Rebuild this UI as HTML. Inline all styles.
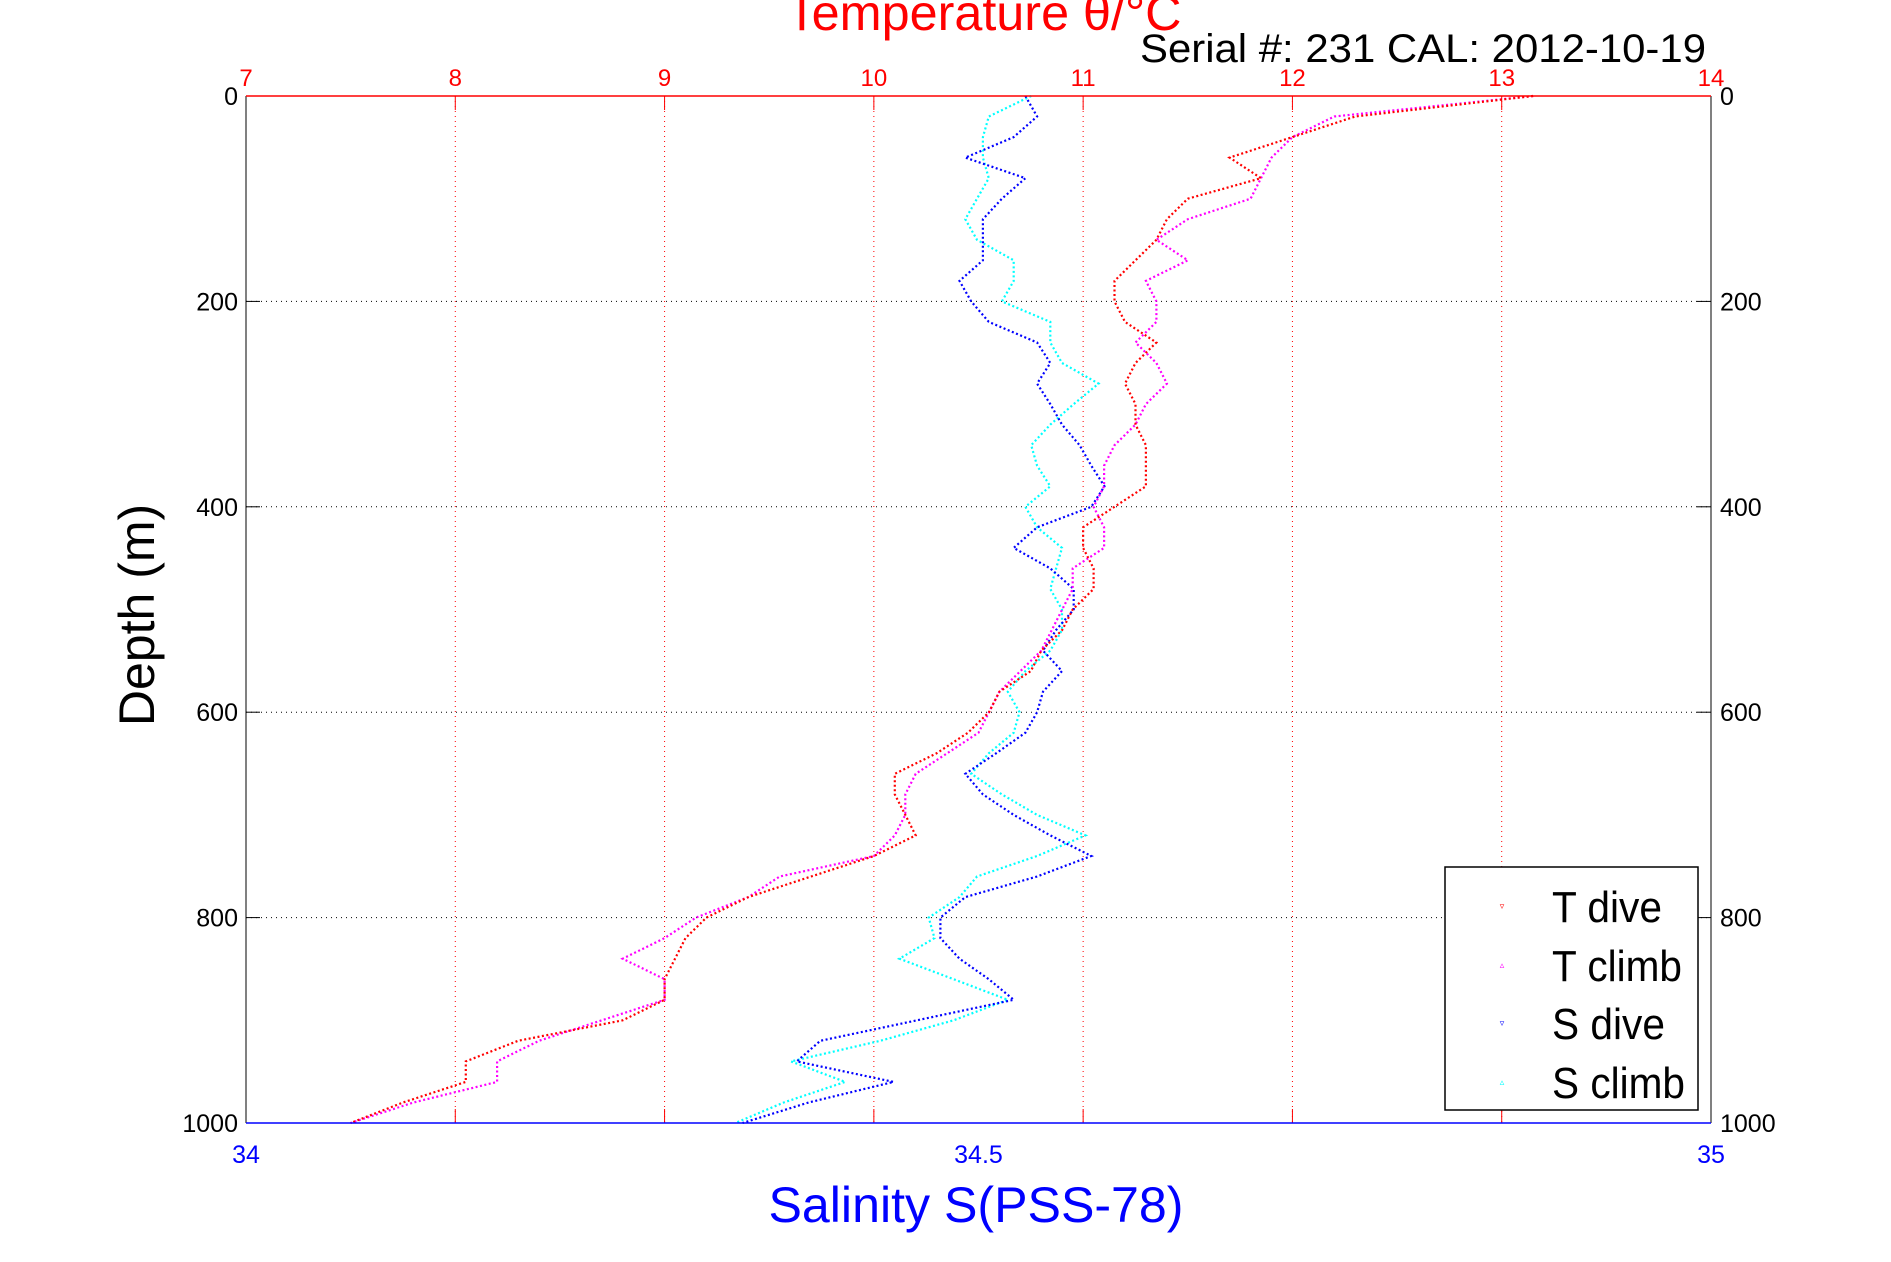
<!DOCTYPE html>
<html><head><meta charset="utf-8"><style>
html,body{margin:0;padding:0;background:#fff;}
svg{display:block;font-family:"Liberation Sans",sans-serif;}
</style></head><body>
<svg id="chart" width="1891" height="1262" viewBox="0 0 1891 1262" xmlns="http://www.w3.org/2000/svg">
<rect width="1891" height="1262" fill="#fff"/>
<g id="grid"></g>
<g id="series"></g>
<g id="axes"></g>
<text x="984" y="30" font-size="50" fill="#f00" text-anchor="middle" textLength="395" lengthAdjust="spacingAndGlyphs">Temperature θ/°C</text>
<text x="1706" y="62" font-size="40" fill="#000" text-anchor="end" textLength="566" lengthAdjust="spacingAndGlyphs">Serial #: 231  CAL: 2012-10-19</text>
<text transform="translate(154,615) rotate(-90)" font-size="50" fill="#000" text-anchor="middle">Depth (m)</text>
<text x="976" y="1222" font-size="50" fill="#00f" text-anchor="middle" textLength="415" lengthAdjust="spacingAndGlyphs">Salinity S(PSS-78)</text>
<g>
<rect x="1445" y="867" width="253" height="243" fill="#fff" stroke="#000" stroke-width="1.5"/>
<text x="1502" y="909" font-size="9" fill="#f00" text-anchor="middle">▿</text>
<text x="1552" y="922" font-size="44" textLength="110" lengthAdjust="spacingAndGlyphs">T dive</text>
<text x="1502" y="968" font-size="9" fill="#f0f" text-anchor="middle">▵</text>
<text x="1552" y="981" font-size="44" textLength="130" lengthAdjust="spacingAndGlyphs">T climb</text>
<text x="1502" y="1026" font-size="9" fill="#00f" text-anchor="middle">▿</text>
<text x="1552" y="1039" font-size="44" textLength="113" lengthAdjust="spacingAndGlyphs">S dive</text>
<text x="1502" y="1085" font-size="9" fill="#0ff" text-anchor="middle">▵</text>
<text x="1552" y="1098" font-size="44" textLength="133" lengthAdjust="spacingAndGlyphs">S climb</text>
</g>
</svg>
<script>
const depths = [0,20,40,60,80,100,120,140,160,180,200,220,240,260,280,300,320,340,360,380,400,420,440,460,480,500,520,540,560,580,600,620,640,660,680,700,720,740,760,780,800,820,840,860,880,900,920,940,960,980,1000];
const tDive = [13.15,12.3,12.0,11.7,11.85,11.5,11.4,11.35,11.25,11.15,11.15,11.2,11.35,11.25,11.2,11.25,11.25,11.3,11.3,11.3,11.15,11.0,11.0,11.05,11.05,10.95,10.9,10.8,10.75,10.6,10.55,10.45,10.3,10.1,10.1,10.15,10.2,10.0,9.7,9.4,9.2,9.1,9.05,9.0,9.0,8.8,8.3,8.05,8.05,7.75,7.5];
const tClimb = [13.15,12.2,12.0,11.9,11.85,11.8,11.5,11.35,11.5,11.3,11.35,11.35,11.25,11.35,11.4,11.3,11.25,11.15,11.1,11.1,11.05,11.1,11.1,10.95,10.95,10.9,10.85,10.8,10.7,10.6,10.55,10.5,10.35,10.2,10.15,10.15,10.1,10.0,9.55,9.4,9.15,9.0,8.8,9.0,9.0,8.7,8.4,8.2,8.2,7.8,7.5];
const sDive = [34.532,34.540,34.524,34.491,34.532,34.516,34.503,34.503,34.503,34.487,34.495,34.507,34.540,34.549,34.540,34.549,34.557,34.569,34.577,34.586,34.577,34.540,34.524,34.549,34.565,34.565,34.553,34.544,34.557,34.544,34.540,34.532,34.512,34.491,34.503,34.524,34.549,34.577,34.540,34.491,34.474,34.474,34.487,34.507,34.524,34.458,34.392,34.376,34.442,34.384,34.339];
const sClimb = [34.536,34.507,34.503,34.503,34.507,34.499,34.491,34.499,34.524,34.524,34.516,34.549,34.549,34.557,34.582,34.565,34.549,34.536,34.540,34.549,34.532,34.540,34.557,34.553,34.549,34.557,34.557,34.549,34.532,34.520,34.528,34.524,34.507,34.495,34.516,34.540,34.573,34.540,34.499,34.487,34.466,34.470,34.446,34.483,34.520,34.483,34.433,34.372,34.409,34.367,34.334];
const tTicks = [7,8,9,10,11,12,13,14];
const sTicks = [34,34.5,35];
const depthTicks = [0,200,400,600,800,1000];

const NS='http://www.w3.org/2000/svg';
const L=246,R=1711,T=96,B=1123;
const xT=v=>L+(v-7)/7*(R-L);
const xS=v=>L+(v-34)*(R-L);
const yD=d=>T+d/1000*(B-T);
function mk(tag,attrs,parent){const e=document.createElementNS(NS,tag);for(const k in attrs)e.setAttribute(k,attrs[k]);parent.appendChild(e);return e;}
const grid=document.getElementById('grid'),axes=document.getElementById('axes'),ser=document.getElementById('series');
tTicks.forEach(v=>{
  if(v>7&&v<14){const g=mk('line',{x1:xT(v),x2:xT(v),y1:T,y2:B,stroke:'#f00','stroke-width':1,'stroke-dasharray':'1 4'},grid);
  
  }
  const t=mk('text',{x:xT(v),y:86,'font-size':24,fill:'#f00','text-anchor':'middle'},axes);t.textContent=v;
  
  
  mk('line',{x1:xT(v),x2:xT(v),y1:T,y2:T+14,stroke:'#f00'},axes);
  mk('line',{x1:xT(v),x2:xT(v),y1:B,y2:B-14,stroke:'#f00'},axes);
});
depthTicks.forEach(d=>{
  if(d>0&&d<1000){const g=mk('line',{x1:L,x2:R,y1:yD(d),y2:yD(d),stroke:'#000','stroke-width':1,'stroke-dasharray':'1 4'},grid);
  
  }
  const a=mk('text',{x:238,y:yD(d)+9,'font-size':25,fill:'#000','text-anchor':'end'},axes);a.textContent=d;
  
  
  const b=mk('text',{x:1720,y:yD(d)+9,'font-size':25,fill:'#000'},axes);b.textContent=d;
  
  
  mk('line',{x1:L,x2:L+14,y1:yD(d),y2:yD(d),stroke:'#000'},axes);
  mk('line',{x1:R,x2:R-14,y1:yD(d),y2:yD(d),stroke:'#000'},axes);
});
sTicks.forEach(v=>{
  const t=mk('text',{x:xS(v),y:1163,'font-size':25,fill:'#00f','text-anchor':'middle'},axes);t.textContent=v;
  
  
});
mk('line',{x1:L,x2:L,y1:T,y2:B,stroke:'#000'},axes);
mk('line',{x1:R,x2:R,y1:T,y2:B,stroke:'#000'},axes);
mk('line',{x1:L,x2:R,y1:T,y2:T,stroke:'#f00','stroke-width':1.5},axes);
mk('line',{x1:L,x2:R,y1:B,y2:B,stroke:'#00f','stroke-width':1.5},axes);

function series(vals,xf,color,name){
  const pts=vals.map((v,i)=>xf(v).toFixed(1)+','+yD(depths[i]).toFixed(1)).join(' ');
  const p=mk('polyline',{points:pts,fill:'none',stroke:color,'stroke-width':2.2,'stroke-dasharray':'2 2.5'},ser);
  
  
}
series(sClimb,xS,'#0ff','s-climb-series');
series(sDive,xS,'#00f','s-dive-series');
series(tClimb,xT,'#f0f','t-climb-series');
series(tDive,xT,'#f00','t-dive-series');
</script>
</body></html>
